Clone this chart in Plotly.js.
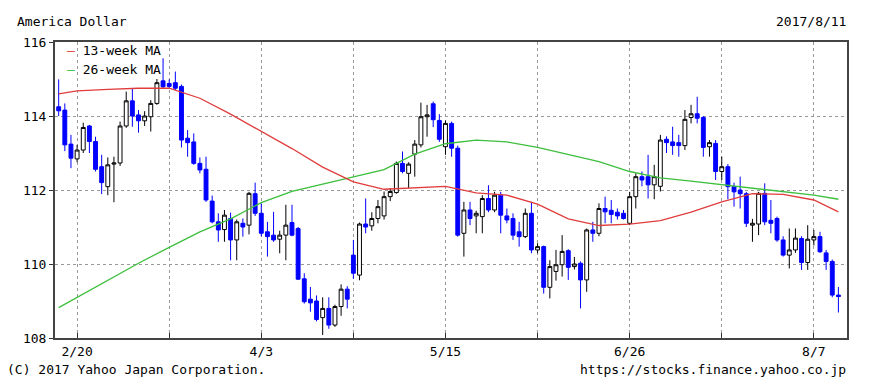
<!DOCTYPE html>
<html>
<head>
<meta charset="utf-8">
<script src="https://cdn.plot.ly/plotly-3.0.1.min.js"></script>
<style>
html,body{margin:0;padding:0;background:#fff;}
#chart{width:870px;height:388px;}
</style>
</head>
<body>
<div id="chart"></div>
<script>
// ---- trading days (weekdays) 2017-02-15 .. 2017-08-11 ----
const startDate = '2017-02-15';
const endDate = '2017-08-11';
const dates = [];
(function(){
  let d = new Date(startDate + 'T00:00:00Z');
  const e = new Date(endDate + 'T00:00:00Z');
  while (d <= e) {
    const wd = d.getUTCDay();
    if (wd !== 0 && wd !== 6) dates.push((d.getUTCMonth()+1) + '/' + d.getUTCDate());
    d = new Date(d.getTime() + 86400000);
  }
})();

// ---- OHLC ----
const openP = [
 114.25,114.16,113.24,
 112.84,113.08,113.73,113.31,112.63, 112.09,112.70,112.73,113.73,114.41,
 114.03,113.87,113.98,114.34,114.95, 114.88,114.90,114.80,113.40,113.30,
 112.72,112.56,111.70,111.14,110.93, 111.23,110.65,111.10,111.05,111.90,
 111.37,110.87,110.78,110.67,110.78, 111.12,110.96,109.60,109.05,109.00,
 108.55,108.80,108.35,108.85,109.32, 110.24,109.70,111.08,111.03,111.23,
 111.30,111.82,111.93,112.72,112.45, 112.97,113.22,113.98,114.33,113.88,
 113.17,113.80,113.13,110.83,111.46, 111.30,111.28,111.77,111.46,111.86,
 111.30,111.23,110.87,110.74,111.37, 110.38,110.47,109.37,109.80,109.98,
 110.36,109.93,110.02,109.57,110.92, 110.83,111.50,111.45,111.40,111.37,
 111.10,111.82,112.36,112.36,112.14, 112.10,113.37,113.30,113.28,113.20,
 113.96,114.06,113.96,113.17,113.26, 112.50,112.63,112.09,112.00,111.90,
 111.05,111.08,111.91,111.18,111.23, 110.65,110.24,110.38,110.69,110.04,
 110.65,110.74,110.30,110.07,109.16
];
const highP = [
 114.99,114.34,113.49,
 113.22,113.82,113.76,113.44,112.95, 112.88,112.90,113.85,114.66,114.75,
 114.16,114.13,114.43,115.00,115.56, 114.99,115.20,114.85,113.62,113.53,
 112.88,112.90,111.85,111.37,111.46, 111.39,111.20,111.23,111.95,112.20,
 111.64,111.14,111.41,110.90,111.60, 111.60,111.00,109.75,109.38,109.15,
 109.10,109.10,108.90,109.45,109.40, 110.65,111.12,111.77,111.40,111.73,
 111.96,112.05,112.77,113.04,112.75, 113.35,114.36,114.30,114.39,114.05,
 113.88,113.85,113.20,111.68,111.68, 111.44,111.86,112.13,111.95,111.95,
 111.50,111.37,111.14,111.50,111.68, 110.56,110.50,110.10,110.38,110.78,
 110.40,110.19,110.07,110.96,111.14, 111.64,111.82,111.73,111.50,111.46,
 111.95,112.45,112.50,112.95,112.68, 113.49,113.45,113.71,113.49,114.16,
 114.30,114.52,114.00,113.35,113.35, 112.90,112.70,112.20,112.36,111.95,
 111.22,111.95,112.18,111.73,111.28, 110.75,110.96,110.96,110.75,111.05,
 110.92,110.87,110.38,110.12,109.38
];
const lowP = [
 114.00,113.05,112.59,
 112.75,113.00,113.00,112.50,111.89, 111.86,111.67,112.65,113.68,113.71,
 113.55,113.73,113.58,114.30,114.75, 114.75,114.70,113.15,112.90,112.68,
 112.45,111.68,111.10,110.60,110.60, 110.10,110.10,110.74,110.80,111.30,
 110.75,110.20,110.60,110.29,110.10, 110.75,109.57,108.93,108.71,108.45,
 108.08,108.25,108.30,108.60,108.80, 109.60,109.56,110.83,110.90,111.10,
 111.20,111.70,111.90,112.45,112.05, 112.36,113.15,113.44,113.70,113.30,
 112.95,112.90,110.74,110.20,111.05, 110.83,110.83,111.40,111.40,110.83,
 111.10,110.65,110.47,110.70,110.29, 110.29,109.20,109.07,109.55,109.66,
 109.57,109.85,108.80,109.25,110.60, 110.75,111.10,111.10,111.20,111.20,
 111.05,111.50,112.10,111.77,111.75, 111.96,113.00,112.95,112.90,113.08,
 113.80,113.80,112.90,112.90,112.27, 112.27,111.75,111.55,111.50,111.00,
 110.60,110.78,111.05,110.83,110.60, 110.20,109.88,110.30,109.84,109.84,
 110.50,110.30,109.84,109.10,108.69
];
const closeP = [
 114.14,113.22,112.86,
 113.08,113.69,113.31,112.56,112.20, 112.68,112.73,113.73,114.41,114.00,
 113.87,114.00,114.34,114.90,114.79, 114.80,114.75,113.35,113.28,112.72,
 112.54,111.73,111.14,110.92,111.32, 110.65,111.14,111.00,111.91,111.37,
 110.83,110.74,110.65,110.78,111.05, 110.78,109.59,108.98,108.95,108.50,
 108.80,108.35,108.85,109.32,109.05, 109.75,111.08,111.00,111.23,111.55,
 111.82,111.96,112.72,112.50,112.70, 113.24,113.98,114.03,113.90,113.37,
 113.80,113.13,110.78,111.46,111.23, 111.37,111.77,111.46,111.86,111.32,
 111.19,110.78,110.74,111.37,110.38, 110.47,109.37,109.93,109.98,110.34,
 109.91,110.00,109.57,110.92,110.83, 111.50,111.41,111.34,111.30,111.23,
 111.82,112.36,112.27,112.14,112.36, 113.35,113.28,113.20,113.20,113.91,
 114.06,113.94,113.15,113.28,112.50, 112.63,112.09,111.95,111.90,111.10,
 111.10,111.91,111.14,111.10,110.65, 110.24,110.38,110.70,110.04,110.67,
 110.74,110.33,110.07,109.16,109.12
];

// ---- moving averages (at sample dates) ----
const ma13Dates = ['2/15','2/20','2/27','3/6','3/13','3/20','3/27','4/3','4/10','4/17','4/24','5/1','5/8','5/15','5/22','5/29','6/5','6/12','6/19','6/26','7/3','7/10','7/17','7/24','7/31','8/7','8/11'];
const ma13 = [114.60,114.68,114.72,114.75,114.75,114.48,114.05,113.58,113.12,112.62,112.22,112.02,112.05,112.10,111.92,111.86,111.62,111.22,111.04,111.08,111.17,111.40,111.68,111.90,111.88,111.73,111.41];
const ma26Dates = ['2/15','2/20','2/27','3/6','3/13','3/20','3/27','4/3','4/10','4/17','4/24','5/1','5/8','5/15','5/22','5/29','6/5','6/12','6/19','6/26','7/3','7/10','7/17','7/24','7/31','8/7','8/11'];
const ma26 = [108.82,109.10,109.55,110.02,110.45,110.87,111.22,111.66,111.96,112.16,112.36,112.55,112.97,113.25,113.35,113.30,113.15,112.97,112.77,112.50,112.33,112.24,112.15,112.05,111.95,111.86,111.75];

// ---- axis labels ----
const xTickDates = ['2/20','3/13','4/3','4/24','5/15','6/5','6/26','7/17','8/7'];
const xTickText  = ['2/20','','4/3','','5/15','','6/26','','8/7'];
const yTicks = [108,110,112,114,116];

const titleText = 'America Dollar';
const dateText = '2017/8/11';
const copyText = '(C) 2017 Yahoo Japan Corporation.';
const urlText = 'https://stocks.finance.yahoo.co.jp';
const ma13Name = '13-week MA';
const ma26Name = '26-week MA';

const FONT = 'DejaVu Sans Mono, monospace';
const RED = '#e03c3c';
const GREEN = '#3cbf3c';
const BLUE = '#0000ff';

const traces = [
  {type:'scatter', mode:'lines', x: ma26Dates, y: ma26, line:{color:GREEN, width:1.3}, hoverinfo:'skip', showlegend:false},
  {type:'scatter', mode:'lines', x: ma13Dates, y: ma13, line:{color:RED, width:1.3}, hoverinfo:'skip', showlegend:false},
  {type:'candlestick', x: dates, open: openP, high: highP, low: lowP, close: closeP,
   increasing:{line:{color:'#000000', width:1}, fillcolor:'#ffffff'},
   decreasing:{line:{color:BLUE, width:1}, fillcolor:BLUE},
   whiskerwidth:0, showlegend:false}
];

const layout = {
  width:870, height:388,
  margin:{l:55, r:23, t:42, b:50},
  paper_bgcolor:'#ffffff', plot_bgcolor:'#ffffff',
  font:{family:FONT, size:13, color:'#000'},
  showlegend:false,
  boxgap:0.1,
  xaxis:{
    type:'category', categoryorder:'array', categoryarray: dates,
    range:[-0.6, 128.4],
    tickmode:'array', tickvals:xTickDates, ticktext:xTickText,
    ticks:'inside', ticklen:5, tickcolor:'#333', tickwidth:1,
    showgrid:true, gridcolor:'#999999', griddash:'dot', gridwidth:1,
    showline:true, mirror:true, linecolor:'#444', linewidth:2,
    rangeslider:{visible:false}, fixedrange:true,
    tickfont:{family:FONT, size:13, color:'#000'}
  },
  yaxis:{
    range:[108,116], tickmode:'array', tickvals:yTicks,
    ticks:'outside', ticklen:4, tickcolor:'#333',
    showgrid:true, gridcolor:'#999999', griddash:'dot', gridwidth:1,
    showline:true, mirror:true, linecolor:'#444', linewidth:2,
    zeroline:false, fixedrange:true,
    tickfont:{family:FONT, size:13, color:'#000'}
  },
  annotations:[
    {xref:'paper', yref:'paper', x:-0.0505, y:1.068, xanchor:'left', yanchor:'middle', showarrow:false, text:titleText, font:{family:FONT, size:13}},
    {xref:'paper', yref:'paper', x:1.001, y:1.068, xanchor:'right', yanchor:'middle', showarrow:false, text:dateText, font:{family:FONT, size:13}},
    {xref:'paper', yref:'paper', x:-0.0631, y:-0.105, xanchor:'left', yanchor:'middle', showarrow:false, text:copyText, font:{family:FONT, size:13}},
    {xref:'paper', yref:'paper', x:1.001, y:-0.105, xanchor:'right', yanchor:'middle', showarrow:false, text:urlText, font:{family:FONT, size:13}},
    {xref:'paper', yref:'paper', x:0.012, y:0.972, xanchor:'left', yanchor:'middle', showarrow:false, text:'<span style="color:'+RED+'">–</span> '+ma13Name, font:{family:FONT, size:13}},
    {xref:'paper', yref:'paper', x:0.012, y:0.908, xanchor:'left', yanchor:'middle', showarrow:false, text:'<span style="color:'+GREEN+'">–</span> '+ma26Name, font:{family:FONT, size:13}}
  ]
};

Plotly.newPlot('chart', traces, layout, {staticPlot:true, displayModeBar:false});
</script>
</body>
</html>
